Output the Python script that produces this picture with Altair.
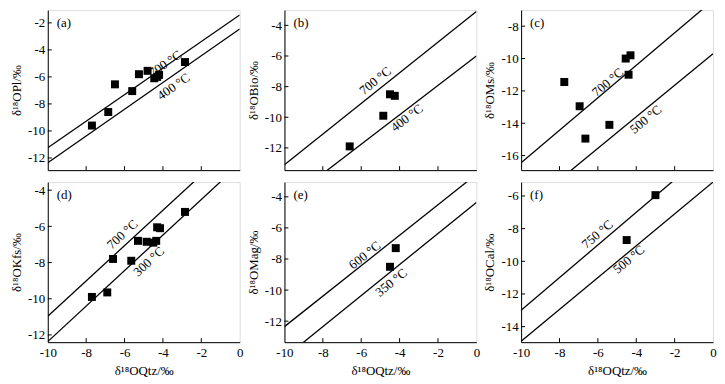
import math
import altair as alt
import pandas as pd

FONT = "Liberation Serif"
W, H = 193, 161

panel_ids = ["a", "b", "c", "d", "e", "f"]
panel_tags = ["(a)", "(b)", "(c)", "(d)", "(e)", "(f)"]
y_titles = ["δ¹⁸OPl/‰", "δ¹⁸OBio/‰", "δ¹⁸OMs/‰", "δ¹⁸OKfs/‰", "δ¹⁸OMag/‰", "δ¹⁸OCal/‰"]
x_title = "δ¹⁸OQtz/‰"

x_domain = [-10, 0]
x_ticks = [-10, -8, -6, -4, -2, 0]
y_domains = [[-12.9, -1.05], [-13.45, -3.0], [-16.9, -7.0],
             [-12.4, -3.55], [-13.35, -3.05], [-14.95, -5.15]]
y_ticks = [[-12, -10, -8, -6, -4, -2], [-12, -10, -8, -6, -4], [-16, -14, -12, -10, -8],
           [-12, -10, -8, -6, -4], [-12, -10, -8, -6, -4], [-14, -12, -10, -8, -6]]

# measured points (x = δ18O quartz, y = δ18O mineral)
pts_x = [
    [-7.7, -6.85, -6.5, -5.6, -5.25, -4.8, -4.45, -4.3, -4.2, -2.85],
    [-6.6, -4.85, -4.5, -4.25],
    [-7.75, -6.95, -6.65, -5.4, -4.55, -4.3, -4.4],
    [-7.7, -6.9, -6.6, -5.65, -5.3, -4.85, -4.5, -4.35, -4.3, -4.15, -2.85],
    [-4.2, -4.5],
    [-3.0, -4.5],
]
pts_y = [
    [-9.6, -8.6, -6.55, -7.05, -5.8, -5.55, -6.1, -6.0, -5.85, -4.9],
    [-11.9, -9.9, -8.5, -8.6],
    [-11.45, -12.95, -14.95, -14.1, -10.0, -9.8, -11.0],
    [-9.9, -9.65, -7.8, -7.9, -6.8, -6.85, -6.9, -6.8, -6.05, -6.1, -5.2],
    [-7.3, -8.5],
    [-5.95, -8.7],
]

# isotherm lines: temperature label, y at x=-10, y at x=0
line_temps = [["700 °C", "400 °C"], ["700 °C", "400 °C"], ["700 °C", "500 °C"],
              ["700 °C", "300 °C"], ["600 °C", "350 °C"], ["750 °C", "500 °C"]]
line_y_left = [[-11.25, -12.35], [-13.1, -15.6], [-16.45, -19.45],
               [-10.97, -12.37], [-12.35, -14.35], [-13.0, -14.9]]
line_y_right = [[-1.42, -2.45], [-3.1, -6.0], [-6.4, -9.7],
                [-1.2, -2.55], [-2.55, -4.36], [-3.0, -5.15]]
label_x = [[-3.87, -3.44], [-5.26, -3.62], [-5.48, -3.5],
           [-6.11, -4.73], [-5.81, -4.43], [-6.02, -4.38]]
label_y = [[-5.04, -6.73], [-7.63, -10.05], [-11.48, -13.77],
           [-6.45, -7.95], [-7.76, -9.52], [-8.35, -9.9]]


def make_panel(i):
    bottom = i >= 3
    yd = y_domains[i]
    xs = alt.Scale(domain=x_domain, nice=False, zero=False)
    ys = alt.Scale(domain=yd, nice=False, zero=False)
    xaxis = alt.Axis(
        values=x_ticks, ticks=False, labels=bottom, grid=False,
        title=x_title if bottom else None,
        labelExpr="'' + datum.value", labelFlush=False,
        labelFont=FONT, labelFontSize=13, labelColor="black", labelPadding=4,
        titleFont=FONT, titleFontSize=13, titleFontWeight="normal",
        titleColor="black", titlePadding=6,
        domainColor="black",
    )
    yaxis = alt.Axis(
        values=y_ticks[i], ticks=False, grid=False, title=y_titles[i],
        labelExpr="'' + datum.value", labelFlush=False,
        labelFont=FONT, labelFontSize=13, labelColor="black", labelPadding=3,
        titleFont=FONT, titleFontSize=13, titleFontWeight="normal",
        titleColor="black", titlePadding=4,
        domainColor="black",
    )

    def X(f):
        return alt.X(f, scale=xs, axis=xaxis)

    def Y(f):
        return alt.Y(f, scale=ys, axis=yaxis)

    pdf = pd.DataFrame({"x": pts_x[i], "y": pts_y[i]})
    points = alt.Chart(pdf).mark_square(size=64, color="black", opacity=1).encode(
        x=X("x:Q"), y=Y("y:Q"),
    )

    rows = []
    for k, t in enumerate(line_temps[i]):
        rows.append({"t": t, "x": x_domain[0], "y": line_y_left[i][k]})
        rows.append({"t": t, "x": x_domain[1], "y": line_y_right[i][k]})
    ldf = pd.DataFrame(rows)
    lines = alt.Chart(ldf).mark_line(color="black", strokeWidth=1.3, clip=True).encode(
        x=X("x:Q"), y=Y("y:Q"), detail="t:N",
    )

    layers = [points, lines]
    span = yd[1] - yd[0]
    for k, t in enumerate(line_temps[i]):
        dy_px = (line_y_right[i][k] - line_y_left[i][k]) / span * H
        ang = math.degrees(math.atan2(dy_px, W))
        tdf = pd.DataFrame({"x": [label_x[i][k]], "y": [label_y[i][k]], "t": [t]})
        layers.append(
            alt.Chart(tdf).mark_text(
                font=FONT, fontSize=13, color="black", align="center",
                baseline="middle", angle=(360 - ang) % 360,
            ).encode(x=X("x:Q"), y=Y("y:Q"), text="t:N")
        )

    # inward ticks
    ytdf = pd.DataFrame({"v": y_ticks[i]})
    layers.append(
        alt.Chart(ytdf).mark_rule(color="black", strokeWidth=1).encode(
            y=Y("v:Q"), x=alt.value(0), x2=alt.value(4),
        )
    )
    xtdf = pd.DataFrame({"v": x_ticks[1:-1]})
    layers.append(
        alt.Chart(xtdf).mark_rule(color="black", strokeWidth=1).encode(
            x=X("v:Q"), y=alt.value(H), y2=alt.value(H - 4),
        )
    )

    tagdf = pd.DataFrame({"t": [panel_tags[i]]})
    layers.append(
        alt.Chart(tagdf).mark_text(
            font=FONT, fontSize=13, color="black", align="left", baseline="middle"
        ).encode(x=alt.value(9), y=alt.value(13), text="t:N")
    )

    return alt.layer(*layers).properties(width=W, height=H)


chart = alt.concat(
    *[make_panel(i) for i in range(6)],
    columns=3,
    spacing={"row": 12, "column": 45},
    bounds="flush",
).properties(
    padding={"left": 2, "top": 0, "right": 0, "bottom": 0},
).configure_view(
    stroke="black", strokeWidth=1
).configure(background="white")

chart.save("out.html", embed_options={"renderer": "svg", "actions": False})
